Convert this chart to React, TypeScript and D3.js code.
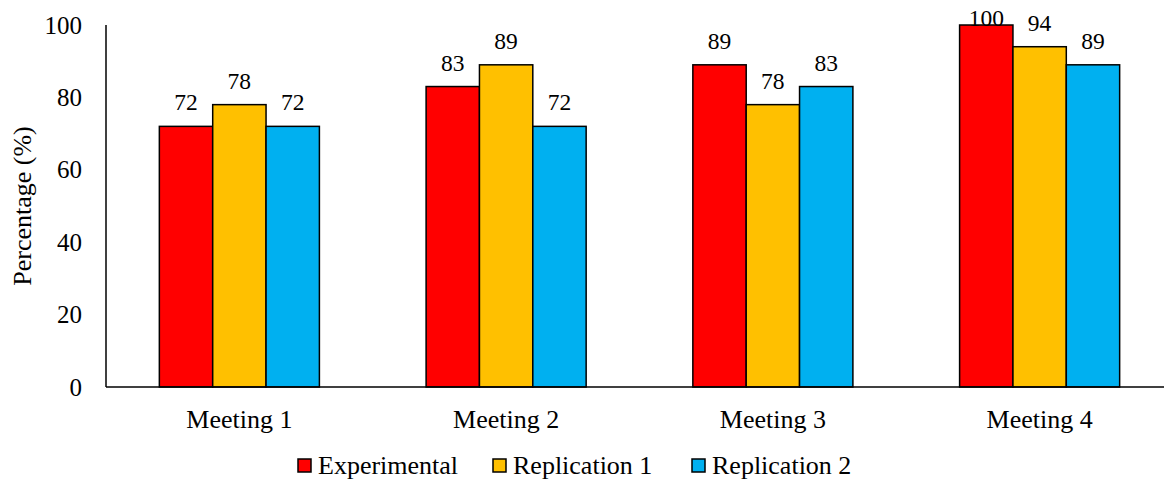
import React from "react";
import * as d3 from "d3";

// Meetings along the x axis
const categories = ["Meeting 1", "Meeting 2", "Meeting 3", "Meeting 4"];
// Series names shown in the legend
const seriesNames = ["Experimental", "Replication 1", "Replication 2"];
// Percentages per series, one per meeting
const experimental = [72, 83, 89, 100];
const replication1 = [78, 89, 78, 94];
const replication2 = [72, 72, 83, 89];
// Y-axis ticks
const yTicks = [0, 20, 40, 60, 80, 100];

const seriesValues = [experimental, replication1, replication2];
const colors = ["#FF0000", "#FFC000", "#00B0F0"];

const W = 1164;
const H = 479;
const margin = { left: 106, right: -9, top: 25, bottom: 92 };
const FONT = "Liberation Serif, Times New Roman, serif";

export default function App() {
  const plotW = W - margin.left - margin.right;
  const y = d3.scaleLinear().domain([0, 100]).range([H - margin.bottom, margin.top]);
  const x0 = d3
    .scaleBand<string>()
    .domain(categories)
    .range([margin.left, margin.left + plotW])
    .paddingInner(0.4)
    .paddingOuter(0.2);
  const x1 = d3.scaleBand<string>().domain(seriesNames).range([0, x0.bandwidth()]);

  const y0 = y(0);

  // legend layout: swatch followed by its label
  const legendX = [298, 493, 692];

  return (
    <svg
      width={W}
      height={H}
      style={{ position: "absolute", left: 0, top: 0, background: "#fff", fontFamily: FONT }}
    >
      {/* bars */}
      {categories.map((cat, ci) => (
        <g key={cat} transform={`translate(${x0(cat)},0)`}>
          {seriesNames.map((s, si) => {
            const v = seriesValues[si][ci];
            const top = y(v);
            const bx = x1(s)!;
            return (
              <g key={s}>
                <rect
                  x={bx}
                  y={top}
                  width={x1.bandwidth()}
                  height={y0 - top}
                  fill={colors[si]}
                  stroke="#000"
                  strokeWidth={1.5}
                />
                <text
                  x={bx + x1.bandwidth() / 2}
                  y={Math.max(top - 16, margin.top + 1)}
                  textAnchor="middle"
                  fontSize={23.5}
                  fill="#000"
                >
                  {v}
                </text>
              </g>
            );
          })}
        </g>
      ))}

      {/* axes */}
      <line x1={margin.left} x2={W} y1={y0} y2={y0} stroke="#000" strokeWidth={1.5} />
      <line x1={margin.left} x2={margin.left} y1={y(100)} y2={y0} stroke="#000" strokeWidth={1.5} />

      {/* y tick labels */}
      {yTicks.map((t) => (
        <text
          key={t}
          x={margin.left - 24}
          y={y(t)}
          textAnchor="end"
          dominantBaseline="central"
          fontSize={25}
          fill="#000"
        >
          {t}
        </text>
      ))}

      {/* category labels */}
      {categories.map((cat) => (
        <text
          key={cat}
          x={x0(cat)! + x0.bandwidth() / 2}
          y={428}
          textAnchor="middle"
          fontSize={26}
          fill="#000"
        >
          {cat}
        </text>
      ))}

      {/* y axis title */}
      <text
        transform={`translate(31,${(y(0) + y(100)) / 2}) rotate(-90)`}
        textAnchor="middle"
        fontSize={26}
        fill="#000"
      >
        Percentage (%)
      </text>

      {/* legend */}
      {seriesNames.map((name, i) => (
        <g key={name}>
          <rect
            x={legendX[i]}
            y={459}
            width={13}
            height={13}
            fill={colors[i]}
            stroke="#000"
            strokeWidth={1.5}
          />
          <text x={legendX[i] + 20} y={474} fontSize={26} fill="#000">
            {name}
          </text>
        </g>
      ))}
    </svg>
  );
}
